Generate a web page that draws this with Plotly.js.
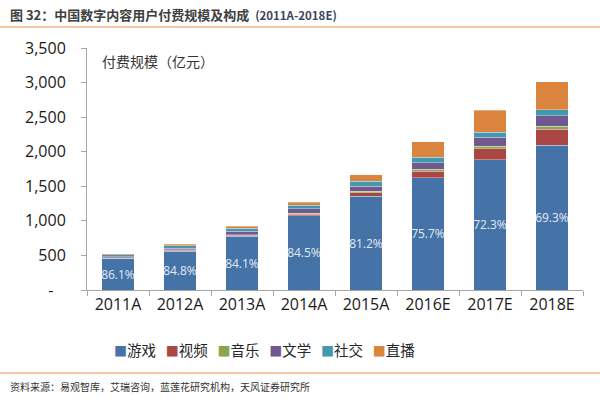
<!DOCTYPE html>
<html>
<head>
<meta charset="utf-8">
<script src="https://cdn.plot.ly/plotly-3.0.1.min.js"></script>
<style>html,body{margin:0;padding:0;background:#fff;}#chart{width:600px;height:400px;}</style>
</head>
<body>
<div id="chart"></div>
<script>
// ---- data ----
var categories = ['2011A','2012A','2013A','2014A','2015A','2016E','2017E','2018E'];
var seriesNames = ['游戏','视频','音乐','文学','社交','直播'];
var game       = [451, 561, 775, 1075, 1354, 1623, 1886, 2092];
var video      = [10, 15, 15, 22, 53, 96, 158, 235];
var music      = [5, 8, 7, 10, 19, 29, 34, 38];
var literature = [15, 22, 50, 65, 76, 96, 130, 154];
var social     = [30, 36, 45, 55, 68, 77, 72, 91];
var live       = [12, 20, 30, 45, 96, 221, 322, 403];
var gameShare  = ['86.1%','84.8%','84.1%','84.5%','81.2%','75.7%','72.3%','69.3%'];
var yTickVals  = [0, 500, 1000, 1500, 2000, 2500, 3000, 3500];
var yTickText  = ['-\u00a0\u00a0\u00a0', '500', '1,000', '1,500', '2,000', '2,500', '3,000', '3,500'];

// ---- styles ----
var colors = ['#4572A7','#AA4643','#89A54E','#71588F','#4198AF','#DB843D'];
var values = [game, video, music, literature, social, live];
var cjk = '"Noto Sans CJK SC", "Noto Sans", sans-serif';
var latin = '"Open Sans", "Noto Sans", sans-serif';

var traces = values.map(function (v, i) {
  var t = {
    type: 'bar',
    name: seriesNames[i],
    x: categories,
    y: v,
    marker: {color: colors[i], line: {color: 'rgba(255,255,255,0.55)', width: 0.6}},
    hoverinfo: 'skip',
    showlegend: false
  };
  if (i === 0) {
    t.text = gameShare;
    t.textposition = 'inside';
    t.insidetextanchor = 'middle';
    t.textangle = 0;
    t.constraintext = 'none';
    t.textfont = {family: latin, size: 12, color: '#e4eaf4'};
  } else {
    t.textposition = 'none';
  }
  return t;
});

// legend built as text from names and colours
var legendText = seriesNames.map(function (n, i) {
  return '<span style="color:' + colors[i] + ';font-size:13px">■</span>' + n;
}).join('\u00a0\u00a0\u00a0');

var W = 496, H = 242, L = 87, T = 48;
function px(x) { return (x - L) / W; }
function py(y) { return (T + H - y) / H; }

var layout = {
  width: 600, height: 400,
  margin: {l: L, r: 600 - L - W, t: T, b: 400 - T - H, pad: 0},
  paper_bgcolor: '#ffffff', plot_bgcolor: '#ffffff',
  barmode: 'stack',
  bargap: 0.47,
  showlegend: false,
  xaxis: {
    type: 'category',
    showline: true, linecolor: '#a6a6a6', linewidth: 1,
    ticks: 'outside', tickson: 'boundaries', ticklen: 5, tickcolor: '#a6a6a6',
    tickfont: {family: latin, size: 16, color: '#1a1a1a'},
    showgrid: false, zeroline: false, fixedrange: true
  },
  yaxis: {
    range: [0, 3500],
    tickmode: 'array', tickvals: yTickVals, ticktext: yTickText,
    showline: true, linecolor: '#a6a6a6', linewidth: 1,
    ticks: 'outside', ticklen: 5, tickcolor: '#a6a6a6',
    ticklabelstandoff: 12,
    tickfont: {family: latin, size: 16, color: '#1a1a1a'},
    showgrid: false, zeroline: false, fixedrange: true
  },
  shapes: [
    {type: 'line', xref: 'paper', yref: 'paper', x0: px(0), x1: px(600), y0: py(27), y1: py(27),
     line: {color: '#F4B183', width: 1.5}},
    {type: 'line', xref: 'paper', yref: 'paper', x0: px(0), x1: px(600), y0: py(373), y1: py(373),
     line: {color: '#F4B183', width: 1.5}}
  ],
  annotations: [
    {xref: 'paper', yref: 'paper', x: px(8), y: py(15), xanchor: 'left', yanchor: 'middle', showarrow: false,
     text: '<b>图 32：中国数字内容用户付费规模及构成</b>\u00a0\u00a0<b><span style="font-size:11.5px;color:#3b4660">(2011A-2018E)</span></b>',
     font: {family: cjk, size: 13, color: '#404040'}},
    {xref: 'paper', yref: 'paper', x: px(100), y: py(61), xanchor: 'left', yanchor: 'middle', showarrow: false,
     text: '付费规模（亿元）', font: {family: cjk, size: 14, color: '#333333'}},
    {xref: 'paper', yref: 'paper', x: px(112), y: py(349), xanchor: 'left', yanchor: 'middle', showarrow: false,
     text: legendText, font: {family: cjk, size: 14.5, color: '#262626'}},
    {xref: 'paper', yref: 'paper', x: px(8), y: py(386), xanchor: 'left', yanchor: 'middle', showarrow: false,
     text: '资料来源：易观智库，艾瑞咨询，蓝莲花研究机构，天风证券研究所', font: {family: cjk, size: 10, color: '#333333'}}
  ]
};

Plotly.newPlot('chart', traces, layout, {displayModeBar: false, staticPlot: true});
</script>
</body>
</html>
